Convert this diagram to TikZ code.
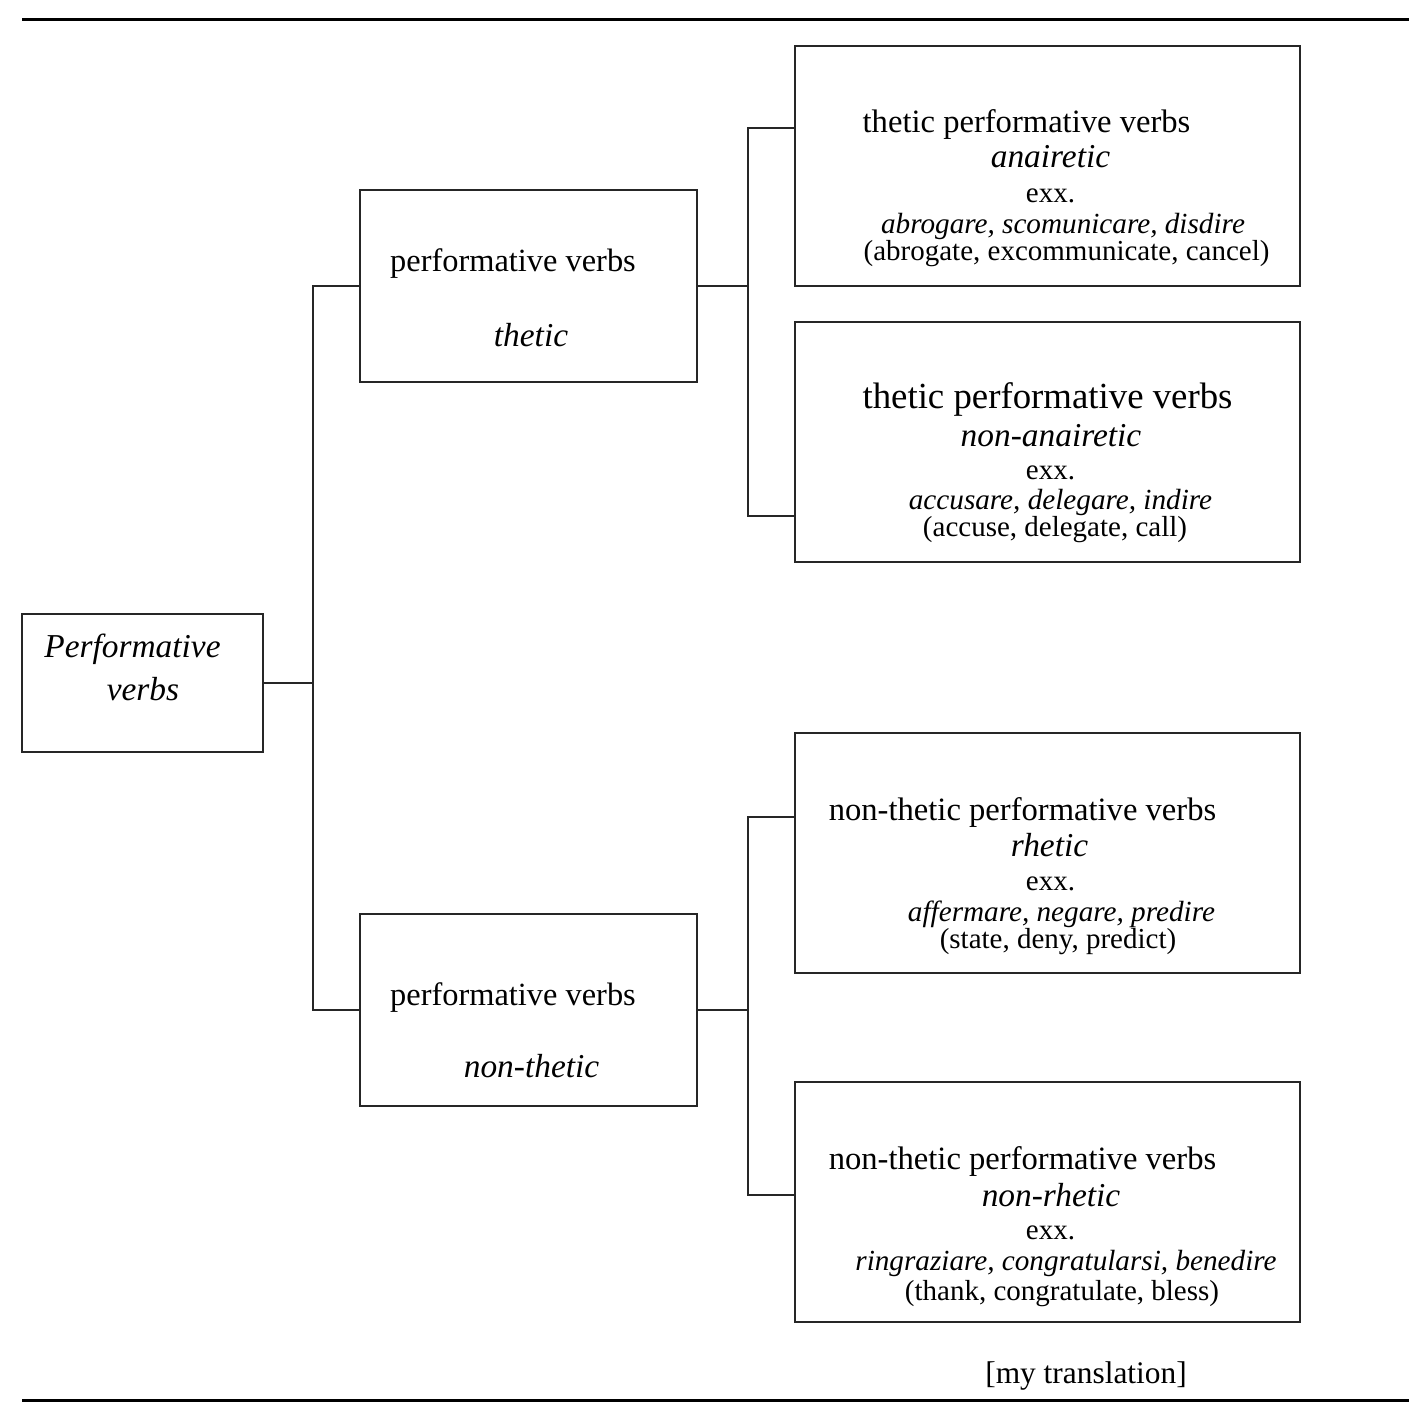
\documentclass[tikz,border=0pt]{standalone}
\usepackage{fontspec}
\setmainfont{Liberation Serif}
\begin{document}
\begin{tikzpicture}[x=0.5pt,y=-0.5pt,
  box/.style={draw=black!85,line width=1.1pt,rectangle,inner sep=0pt,outer sep=0pt},
  wide/.style={box,minimum width=252.5pt,minimum height=120pt},
  mid/.style={box,minimum width=168.5pt,minimum height=96pt},
  conn/.style={draw=black!85,line width=1.1pt},
  rulel/.style={draw=black,line width=1.5pt},
  txt/.style={anchor=base,inner sep=0pt,outer sep=0pt},
  tA/.style={txt,font=\fontsize{16.3}{18}\selectfont},
  tAA/.style={txt,font=\fontsize{18.4}{20}\selectfont},
  tS/.style={txt,font=\fontsize{16.7}{18}\selectfont\itshape},
  tE/.style={txt,font=\fontsize{14.5}{16}\selectfont},
  tI/.style={txt,font=\fontsize{14.6}{16}\selectfont\itshape}]
\useasboundingbox (0,0) rectangle (1409,1413);
\fill[white] (0,0) rectangle (1409,1413);

% rules
\draw[rulel] (22,20) coordinate (rt1) -- (1409,20) coordinate (rt2);
\draw[rulel] (22,1400) coordinate (rb1) -- (1409,1400) coordinate (rb2);

% boxes
\node[box,minimum width=120.5pt,minimum height=69pt] (root) at (142.5,683) {};
\node[mid] (thetic) at (528.5,286) {};
\node[mid] (nonthetic) at (528.5,1010) {};
\node[wide] (A1) at (1047.5,166) {};
\node[wide] (A2) at (1047.5,442) {};
\node[wide] (B1) at (1047.5,853) {};
\node[wide] (B2) at (1047.5,1202) {};

% root text
\node[tS] (r1) at (132.5,657) {Performative};
\node[tS] (r2) at (143,700) {verbs};

% thetic
\node[tA,font=\fontsize{16.2}{18}\selectfont] (t1) at (513,271) {performative verbs};
\node[tS] (t2) at (531,346) {thetic};

% non-thetic
\node[tA,font=\fontsize{16.2}{18}\selectfont] (n1) at (513,1005) {performative verbs};
\node[tS] (n2) at (531.5,1077) {non-thetic};

% A1
\node[tA] (a11) at (1026.5,133) {thetic performative verbs};
\node[tS] (a12) at (1050.5,168) {anairetic};
\node[tE] (a13) at (1050.5,202) {exx.};
\node[tI] (a14) at (1063,233) {abrogare, scomunicare, disdire};
\node[tE] (a15) at (1066.5,260) {(abrogate, excommunicate, cancel)};

% A2
\node[tAA] (a21) at (1047.5,408) {thetic performative verbs};
\node[tS] (a22) at (1051,446) {non-anairetic};
\node[tE] (a23) at (1050.5,479) {exx.};
\node[tI] (a24) at (1060.5,509) {accusare, delegare, indire};
\node[tE] (a25) at (1055,536) {(accuse, delegate, call)};

% B1
\node[tA] (b11) at (1022.5,820) {non-thetic performative verbs};
\node[tS] (b12) at (1049.5,856) {rhetic};
\node[tE] (b13) at (1050.5,890) {exx.};
\node[tI] (b14) at (1061.5,921) {affermare, negare, predire};
\node[tE] (b15) at (1058,948) {(state, deny, predict)};

% B2
\node[tA] (b21) at (1022.5,1169) {non-thetic performative verbs};
\node[tS] (b22) at (1051,1206) {non-rhetic};
\node[tE] (b23) at (1050.5,1239) {exx.};
\node[tI] (b24) at (1066,1270) {ringraziare, congratularsi, benedire};
\node[tE] (b25) at (1062,1300) {(thank, congratulate, bless)};

\node[txt,font=\fontsize{15.7}{17}\selectfont] (tr) at (1086,1383) {[my translation]};

% connectors
\coordinate (j1) at (313,683);
\coordinate (j2) at (748,286);
\coordinate (j3) at (748,1010);
\draw[conn] (root.east) -- (j1);
\draw[conn] (thetic.west) -| (j1) |- (nonthetic.west);
\draw[conn] (thetic.east) -- (j2);
\draw[conn] (A1.west |- 0,128) -| (j2) |- (A2.west |- 0,516);
\draw[conn] (nonthetic.east) -- (j3);
\draw[conn] (B1.west |- 0,817) -| (j3) |- (B2.west |- 0,1195);
\end{tikzpicture}
\end{document}
